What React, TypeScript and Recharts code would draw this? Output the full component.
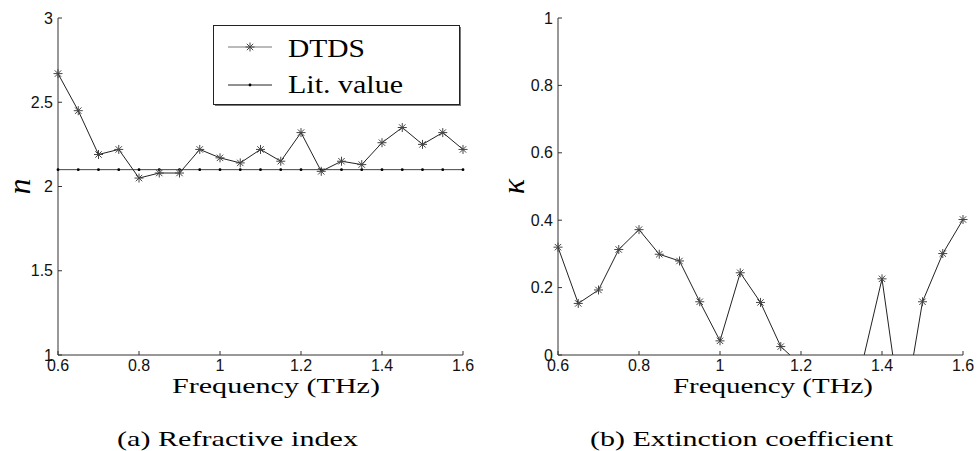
import React from "react";
import { LineChart, Line, XAxis, YAxis, Legend } from "recharts";

// frequency samples (THz)
const freq = [
  0.6, 0.65, 0.7, 0.75, 0.8, 0.85, 0.9, 0.95, 1.0, 1.05, 1.1, 1.15, 1.2, 1.25,
  1.3, 1.35, 1.4, 1.45, 1.5, 1.55, 1.6,
];

// (a) refractive index
const nDtds = [
  2.67, 2.45, 2.19, 2.22, 2.05, 2.08, 2.08, 2.22, 2.17, 2.14, 2.22, 2.15, 2.32,
  2.09, 2.15, 2.13, 2.26, 2.35, 2.25, 2.32, 2.22,
];
const nLit = [
  2.1, 2.1, 2.1, 2.1, 2.1, 2.1, 2.1, 2.1, 2.1, 2.1, 2.1, 2.1, 2.1, 2.1, 2.1,
  2.1, 2.1, 2.1, 2.1, 2.1, 2.1,
];

// (b) extinction coefficient (negative ones fall below the visible axis)
const kappa = [
  0.32, 0.153, 0.193, 0.313, 0.372, 0.299, 0.279, 0.158, 0.042, 0.244, 0.156,
  0.025, -0.03, -0.08, -0.06, -0.031, 0.226, -0.2, 0.158, 0.301, 0.402,
];

const xTicks = [0.6, 0.8, 1, 1.2, 1.4, 1.6];
const nTicks = [1, 1.5, 2, 2.5, 3];
const kTicks = [0, 0.2, 0.4, 0.6, 0.8, 1];

const dataA = freq.map((f, i) => ({ f, dtds: nDtds[i], lit: nLit[i] }));
const dataB = freq.map((f, i) => ({ f, kappa: kappa[i] }));

const serif = "Liberation Serif, Times New Roman, serif";
const sans = "Liberation Sans, Arial, sans-serif";
const axisColor = "#333";
const tickStyle = { fill: "#111", fontSize: 16, fontFamily: sans };

// matlab style '*' marker
const Star = (props: any) => {
  const { cx, cy, value } = props;
  if (cx == null || cy == null || value < 0) return <g />;
  const r = 4.5;
  const d = 3.2;
  return (
    <g stroke="#444" strokeWidth={1}>
      <line x1={cx - r} y1={cy} x2={cx + r} y2={cy} />
      <line x1={cx} y1={cy - r} x2={cx} y2={cy + r} />
      <line x1={cx - d} y1={cy - d} x2={cx + d} y2={cy + d} />
      <line x1={cx - d} y1={cy + d} x2={cx + d} y2={cy - d} />
    </g>
  );
};

const Dot = (props: any) => {
  const { cx, cy } = props;
  if (cx == null || cy == null) return <g />;
  return <circle cx={cx} cy={cy} r={1.4} fill="#000" />;
};

// x-axis title plus the sub-figure caption underneath
const bottomLabel = (title: string, caption: string, dx: number, tw: number, cdx: number, cw: number) =>
  (props: any) => {
    const { x, y, width } = props.viewBox;
    const mid = x + width / 2;
    return (
      <g style={{ fontFamily: serif }} fill="#000">
        <text x={mid + dx} y={y + 38} fontSize={21} textAnchor="middle" textLength={tw} lengthAdjust="spacingAndGlyphs">
          {title}
        </text>
        <text x={mid + cdx} y={y + 91} fontSize={22} textAnchor="middle" textLength={cw} lengthAdjust="spacingAndGlyphs">
          {caption}
        </text>
      </g>
    );
  };

const sideLabel = (symbol: string, dx: number) => (props: any) => {
  const { x, y, height } = props.viewBox;
  const cx = x + dx;
  const cy = y + height / 2;
  return (
    <text
      x={cx}
      y={cy}
      fontSize={32}
      fontStyle="italic"
      style={{ fontFamily: serif }}
      textAnchor="middle"
      dominantBaseline="central"
      transform={`rotate(-90, ${cx}, ${cy})`}
    >
      {symbol}
    </text>
  );
};

const LegendBox = () => (
  <svg width={250} height={83} style={{ display: "block" }}>
    <rect x={2} y={2} width={246} height={79} fill="#777" />
    <rect x={0.5} y={0.5} width={246} height={79} fill="#fff" stroke="#222" />
    <line x1={15} y1={22} x2={59} y2={22} stroke="#777" />
    <Star cx={37} cy={22} value={1} />
    <line x1={15} y1={60} x2={59} y2={60} stroke="#222" />
    <circle cx={37} cy={60} r={1.4} fill="#000" />
    <text x={75} y={32} fontSize={26} style={{ fontFamily: serif }} textLength={77} lengthAdjust="spacingAndGlyphs">
      DTDS
    </text>
    <text x={75} y={68} fontSize={26} style={{ fontFamily: serif }} textLength={115} lengthAdjust="spacingAndGlyphs">
      Lit. value
    </text>
  </svg>
);

export default function App() {
  return (
    <div style={{ position: "absolute", left: 0, top: 0, width: 977, height: 451, background: "#fff" }}>
      <div style={{ position: "absolute", left: 0, top: 0 }}>
        <LineChart width={490} height={451} data={dataA} margin={{ top: 18, right: 27, left: 18, bottom: 66 }}>
          <XAxis
            type="number"
            dataKey="f"
            domain={[0.6, 1.6]}
            ticks={xTicks}
            interval={0}
            height={30}
            tickSize={-4}
            tickMargin={9}
            stroke={axisColor}
            tick={tickStyle}
            label={bottomLabel("Frequency (THz)", "(a) Refractive index", 15.5, 208, -23, 241)}
          />
          <XAxis xAxisId="top" orientation="top" type="number" dataKey="f" domain={[0.6, 1.6]} ticks={xTicks} height={0} tickSize={-4} tick={false} stroke={axisColor} />
          <YAxis
            type="number"
            domain={[1, 3]}
            ticks={nTicks}
            interval={0}
            width={40}
            tickSize={-4}
            tickMargin={9}
            stroke={axisColor}
            tick={tickStyle}
            label={sideLabel("n", 1)}
          />
          <YAxis yAxisId="right" orientation="right" type="number" domain={[1, 3]} ticks={nTicks} width={0} tickSize={-4} tick={false} stroke={axisColor} />
          <Line dataKey="lit" stroke="#444" strokeWidth={1} dot={<Dot />} isAnimationActive={false} />
          <Line dataKey="dtds" stroke="#222" strokeWidth={1} dot={<Star />} isAnimationActive={false} />
          <Legend
            layout="vertical"
            align="center"
            verticalAlign="middle"
            content={() => <LegendBox />}
            wrapperStyle={{ left: 213, top: 25, width: 250, height: 83 }}
          />
        </LineChart>
      </div>
      <div style={{ position: "absolute", left: 490, top: 0 }}>
        <LineChart width={487} height={451} data={dataB} margin={{ top: 18, right: 14, left: 28, bottom: 66 }}>
          <XAxis
            type="number"
            dataKey="f"
            domain={[0.6, 1.6]}
            ticks={xTicks}
            interval={0}
            height={30}
            tickSize={-4}
            tickMargin={9}
            stroke={axisColor}
            tick={tickStyle}
            label={bottomLabel("Frequency (THz)", "(b) Extinction coefficient", 12.5, 200, -19, 303)}
          />
          <XAxis xAxisId="top" orientation="top" type="number" dataKey="f" domain={[0.6, 1.6]} ticks={xTicks} height={0} tickSize={-4} tick={false} stroke={axisColor} />
          <YAxis
            type="number"
            domain={[0, 1]}
            allowDataOverflow
            ticks={kTicks}
            interval={0}
            width={40}
            tickSize={-4}
            tickMargin={9}
            stroke={axisColor}
            tick={tickStyle}
            label={sideLabel("κ", -5)}
          />
          <YAxis yAxisId="right" orientation="right" type="number" domain={[0, 1]} ticks={kTicks} width={0} tickSize={-4} tick={false} stroke={axisColor} />
          <Line dataKey="kappa" stroke="#222" strokeWidth={1} dot={<Star />} isAnimationActive={false} />
        </LineChart>
      </div>
    </div>
  );
}
